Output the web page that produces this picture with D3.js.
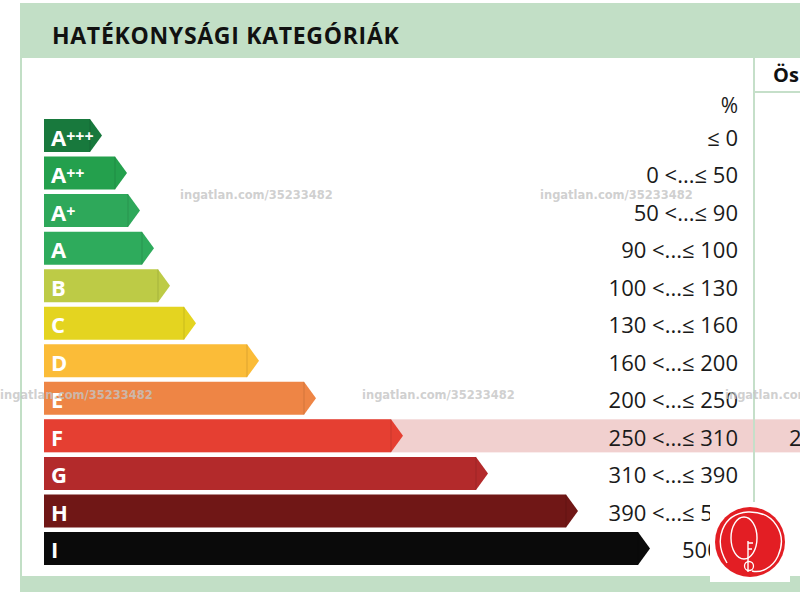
<!DOCTYPE html>
<html><head><meta charset="utf-8">
<script src="https://cdn.jsdelivr.net/npm/d3@7"></script>
<style>html,body{margin:0;padding:0;background:#fff;}svg{display:block;}</style>
</head><body>
<script>
const categories = ["A+++","A++","A+","A","B","C","D","E","F","G","H","I"];
const barValues = [58, 83, 96, 110, 126, 152, 215, 272, 359, 444, 534, 606];
const rangeLabels = ["≤ 0","0 <...≤ 50","50 <...≤ 90","90 <...≤ 100","100 <...≤ 130","130 <...≤ 160","160 <...≤ 200","200 <...≤ 250","250 <...≤ 310","310 <...≤ 390","390 <...≤ 500","500 <"];
const colors = ["#18793d","#24a04d","#2ea85a","#2eab5c","#bdcb46","#e4d420","#fbbc38","#ee8545","#e53f32","#b32a2b","#701716","#0a0a0a"];
const highlighted = "F";
const title = "HATÉKONYSÁGI KATEGÓRIÁK";
const unitLabel = "%";
const sideHeader = "Ös";
const sideValue = "2";
const watermark = "ingatlan.com/35233482";

const W = 800, H = 592;
const svg = d3.select("body").append("svg").attr("width", W).attr("height", H);
const font = "'Open Sans', 'Noto Sans', sans-serif";

// frame
svg.append("rect").attr("x",20).attr("y",3).attr("width",W-20).attr("height",H-3).attr("fill","#c2dfc6");
svg.append("rect").attr("x",22).attr("y",58).attr("width",W-22).attr("height",518).attr("fill","#fff");
svg.append("text").attr("x",52).attr("y",35).attr("dominant-baseline","central").attr("font-family",font).attr("font-weight",700)
  .attr("font-size",23).attr("letter-spacing",0.7).attr("fill","#111").text(title);

const y = d3.scaleBand().domain(categories).range([119,565]).paddingInner(0.12).paddingOuter(0);
const x = d3.scaleLinear().domain([0, d3.max(barValues)]).range([44, 650]);
const arrow = 12;

// highlight row
svg.append("rect").attr("x",44).attr("y",y(highlighted)).attr("width",W-44).attr("height",y.bandwidth()).attr("fill","#f1d0cf");

// right column divider
svg.append("rect").attr("x",753).attr("y",58).attr("width",2).attr("height",518).attr("fill","#c5dfc9");
svg.append("rect").attr("x",755).attr("y",91).attr("width",45).attr("height",2).attr("fill","#c5dfc9");
svg.append("text").attr("x",773).attr("y",74).attr("dominant-baseline","central").attr("font-family",font)
  .attr("font-weight",700).attr("font-size",20).attr("fill","#111").text(sideHeader);
svg.append("text").attr("x",789).attr("y",y(highlighted)+y.bandwidth()/2+1).attr("dominant-baseline","central")
  .attr("font-family",font).attr("font-size",22).attr("fill","#1a1a1a").text(sideValue);

const rows = svg.append("g").selectAll("g").data(categories).join("g");
rows.append("path")
  .attr("d",(d,i)=>{
    const y0=y(d), h=y.bandwidth(), x0=x(0), x1=x(barValues[i]);
    return `M${x0},${y0}H${x1-arrow}L${x1},${y0+h/2}L${x1-arrow},${y0+h}H${x0}Z`;
  })
  .attr("fill",(d,i)=>colors[i]);
rows.append("line")
  .attr("x1",(d,i)=>x(barValues[i])-arrow).attr("x2",(d,i)=>x(barValues[i])-arrow)
  .attr("y1",d=>y(d)).attr("y2",d=>y(d)+y.bandwidth())
  .attr("stroke","#000").attr("stroke-opacity",0.12).attr("stroke-width",1);

const lbl = rows.append("text").attr("x",51).attr("y",d=>y(d)+y.bandwidth()/2+1)
  .attr("dominant-baseline","central").attr("font-family",font).attr("font-weight",700).attr("fill","#fff");
lbl.append("tspan").attr("font-size",22).text(d=>d[0]);
lbl.append("tspan").attr("font-size",16).attr("dy",-1).text(d=>d.slice(1));

rows.append("text").attr("x",738).attr("y",d=>y(d)+y.bandwidth()/2+1).attr("text-anchor","end")
  .attr("dominant-baseline","central").attr("font-family",font).attr("font-size",22).attr("fill","#1a1a1a")
  .text((d,i)=>rangeLabels[i]);

svg.append("text").attr("x",738).attr("y",105).attr("text-anchor","end").attr("dominant-baseline","central")
  .attr("font-family",font).attr("font-size",21).attr("fill","#1a1a1a").text(unitLabel);

// watermarks
const wm = [[180,195],[540,195],[0,395],[362,395],[725,395]];
svg.append("g").selectAll("text").data(wm).join("text")
  .attr("x",d=>d[0]).attr("y",d=>d[1]).attr("dominant-baseline","central")
  .attr("font-family","'DejaVu Sans', sans-serif").attr("font-weight",700).attr("font-size",11.5)
  .attr("fill","#c4c4c4").attr("fill-opacity",0.8).text(watermark);

// logo
const logo = svg.append("g");
logo.append("rect").attr("x",710).attr("y",502).attr("width",80).attr("height",80).attr("fill","#fff");
logo.append("circle").attr("cx",750).attr("cy",542).attr("r",35).attr("fill","#e31e24");
logo.append("path").attr("d","M727,563 C713,540 722,514 748,512 C774,511 788,534 778,556 C772,569 760,573 752,571")
  .attr("fill","none").attr("stroke","#fff").attr("stroke-width",1.4);
logo.append("ellipse").attr("cx",744).attr("cy",538).attr("rx",13).attr("ry",21).attr("fill","none").attr("stroke","#fff").attr("stroke-width",1.4);
logo.append("path").attr("d","M748,541 V572 M748,543 H753 M748,549 H752").attr("fill","none").attr("stroke","#fff").attr("stroke-width",1.4);
logo.append("circle").attr("cx",749).attr("cy",566).attr("r",4.5).attr("fill","none").attr("stroke","#fff").attr("stroke-width",1.3);
</script>
</body></html>
